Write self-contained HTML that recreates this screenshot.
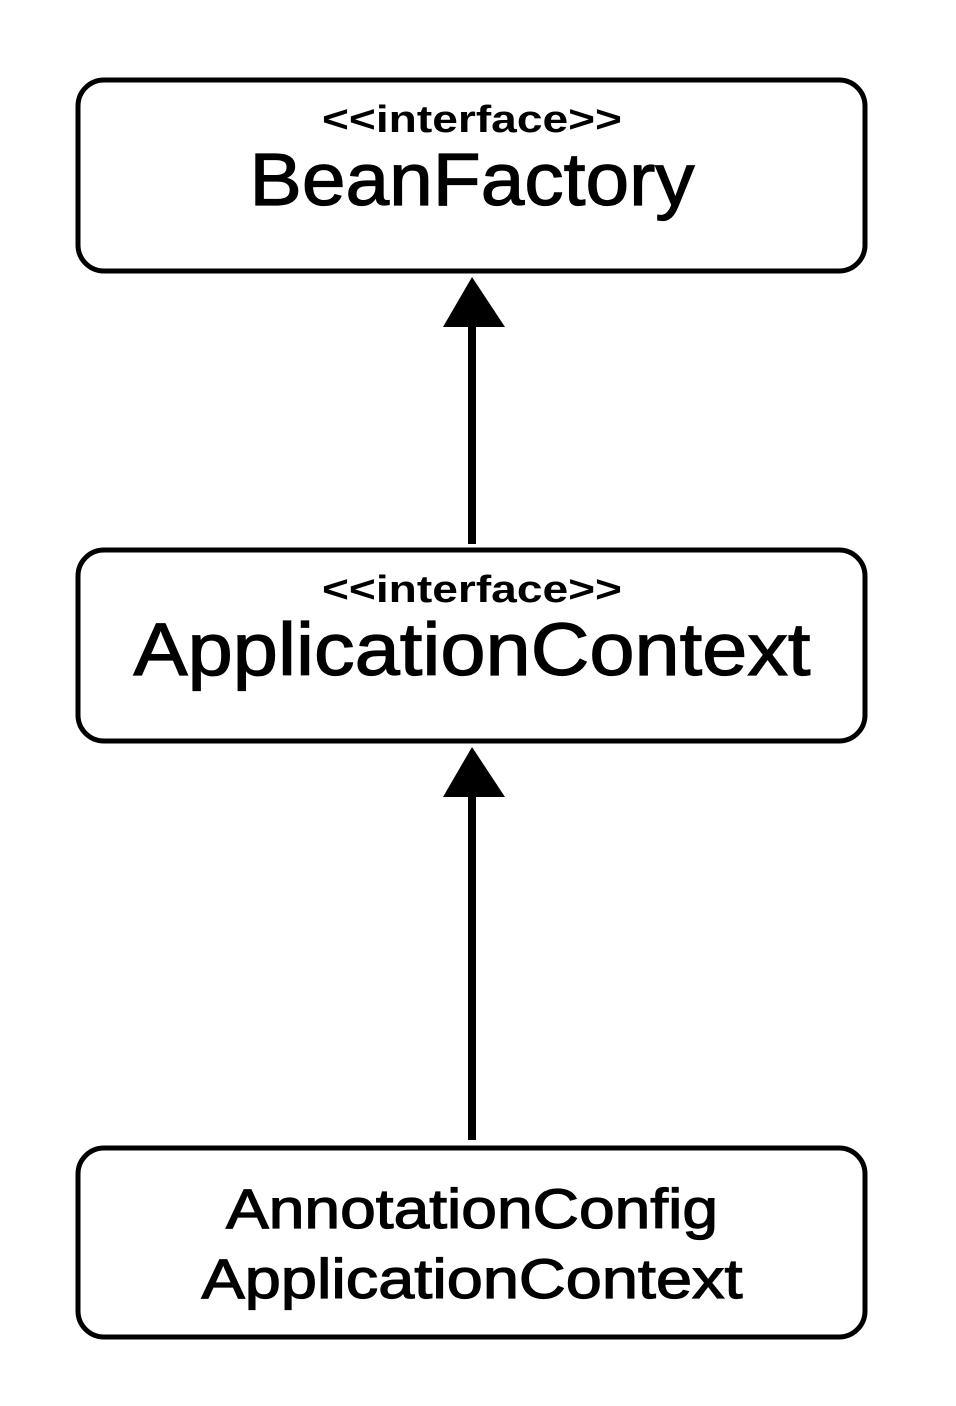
<!DOCTYPE html>
<html><head><meta charset="utf-8"><style>html,body{margin:0;padding:0;background:#fff}svg{display:block}</style></head>
<body>
<svg width="956" height="1406" viewBox="0 0 956 1406" xmlns="http://www.w3.org/2000/svg" font-family="Liberation Sans, Arial, sans-serif">
<rect width="956" height="1406" fill="#fff"/>
<g fill="none" stroke="#000" stroke-width="5">
<rect x="78" y="80" width="787" height="191" rx="26"/>
<rect x="78" y="550" width="787" height="191" rx="26"/>
<rect x="78" y="1148" width="787" height="189" rx="26"/>
<line x1="472" y1="318" x2="472" y2="544" stroke-width="8"/>
<line x1="472" y1="790" x2="472" y2="1140" stroke-width="8"/>
</g>
<polygon points="472,277 443,327 505,327" fill="#000"/>
<polygon points="472,747 443,797 505,797" fill="#000"/>
<g fill="#000" text-anchor="middle">
<text x="472" y="132" font-size="38" font-weight="bold" textLength="300" lengthAdjust="spacingAndGlyphs">&lt;&lt;interface&gt;&gt;</text>
<text x="472" y="602" font-size="38" font-weight="bold" textLength="300" lengthAdjust="spacingAndGlyphs">&lt;&lt;interface&gt;&gt;</text>
</g>
<g fill="#000" stroke="#000" stroke-width="1.2" text-anchor="middle">
<text x="472" y="205" font-size="74" textLength="445" lengthAdjust="spacingAndGlyphs">BeanFactory</text>
<text x="472" y="675" font-size="74" textLength="677" lengthAdjust="spacingAndGlyphs">ApplicationContext</text>
<text x="472" y="1228" font-size="56" textLength="492" lengthAdjust="spacingAndGlyphs">AnnotationConfig</text>
<text x="472" y="1298" font-size="56" textLength="541" lengthAdjust="spacingAndGlyphs">ApplicationContext</text>
</g>
</svg>
</body></html>
